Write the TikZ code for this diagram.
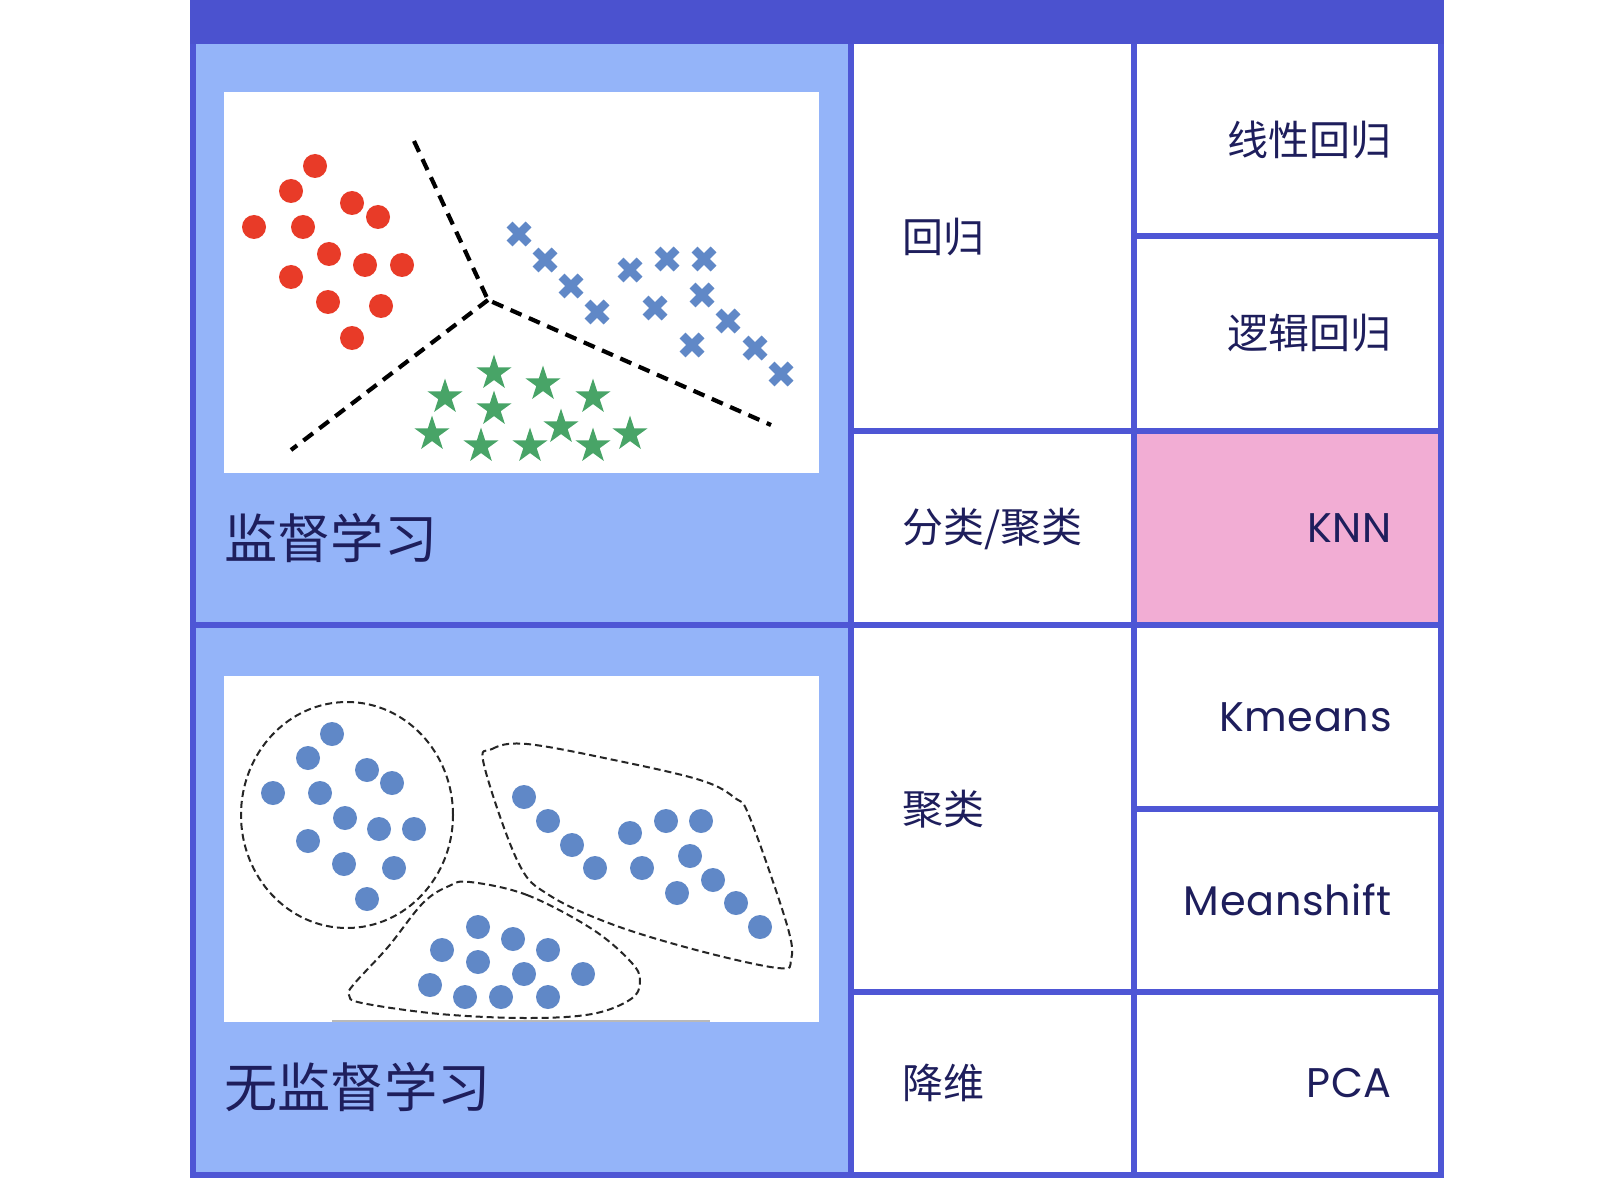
\documentclass[tikz,border=0pt]{standalone}
\usepackage{fontspec}
\setmainfont[LetterSpace=1.5]{Poppins}
\newfontfamily\cjk{Noto Sans CJK SC}
\usepackage{xcolor}
\usepackage{tikz}
\usetikzlibrary{shapes.geometric}

\definecolor{barblue}{HTML}{4B52CF}
\definecolor{gridblue}{HTML}{4E56D5}
\definecolor{paneblue}{HTML}{94B4F9}
\definecolor{knnpink}{HTML}{F2ADD4}
\definecolor{inkblue}{HTML}{1E1E5C}
\definecolor{dotred}{HTML}{E83B28}
\definecolor{dotblue}{HTML}{6088C7}
\definecolor{stargreen}{HTML}{48A467}

\tikzset{
  grid line/.style={draw=gridblue, line width=3pt},
  split line/.style={draw=black, line width=2.1pt, dash pattern=on 6pt off 4pt},
  hull line/.style={draw=black!85, line width=1pt, dash pattern=on 3.5pt off 2pt},
  big label/.style={anchor=west, inner sep=0pt, text=inkblue, font=\cjk\fontsize{26.6}{30}\selectfont},
  kind label/.style={anchor=west, inner sep=0pt, text=inkblue, font=\cjk\fontsize{20.5}{24}\selectfont},
  algo label/.style={anchor=east, inner sep=0pt, text=inkblue, font=\fontsize{20.7}{24}\selectfont},
  algo cjk/.style={algo label, font=\cjk\fontsize{20.5}{24}\selectfont},
  green star/.style={star, star points=5, star point ratio=2.618, minimum size=18.5pt, inner sep=0pt, fill=stargreen},
}

\begin{document}
\begin{tikzpicture}[x=0.5pt, y=-0.5pt]
\useasboundingbox (0,0) rectangle (1620,1203);
\fill[white] (0,0) rectangle (1620,1203);

% panes and table
\fill[paneblue] (193,44) rectangle (851,1175);
\fill[knnpink] (1134,431) rectangle (1441,625);
\fill[white] (224,92) rectangle (819,473);
\fill[white] (224,676) rectangle (819,1022);
\draw[gray!55, line width=0.6pt] (332,1021) -- (710,1021);

\draw[grid line] (193,41) -- (193,1175) -- (1441,1175) -- (1441,41);
\draw[grid line] (851,41) -- (851,1175);
\draw[grid line] (1134,41) -- (1134,1175);
\draw[grid line] (193,625) -- (1441,625);
\draw[grid line] (851,431) -- (1441,431);
\draw[grid line] (1134,236) -- (1441,236);
\draw[grid line] (1134,808.5) -- (1441,808.5);
\draw[grid line] (851,992) -- (1441,992);
\fill[barblue] (190,0) rectangle (1444,44);

% supervised scatter
\foreach \x/\y in {315/166, 291/191, 352/203, 378/217, 254/227, 303/227, 329/254,
                   365/265, 402/265, 291/277, 328/302, 381/306, 352/338}
  \fill[dotred] (\x,\y) circle[radius=6pt];
\foreach \x/\y in {519/234, 545/260, 571/286, 597/312, 630/270, 667/259, 704/259,
                   655/308, 702/295, 728/321, 692/345, 755/348, 781/374}
  \draw[dotblue, line width=4.2pt] (\x-9.5,\y-9.5) -- (\x+9.5,\y+9.5) (\x-9.5,\y+9.5) -- (\x+9.5,\y-9.5);
\foreach \x/\y in {494/373, 543/384, 445/397, 593/397, 494/409, 561/427, 432/434,
                   630/434, 481/446, 530/446, 593/446}
  \node[green star] at (\x,\y) {};

\coordinate (hub) at (488,300);
\coordinate (north end) at (414,141);
\coordinate (west end) at (291,450);
\coordinate (east end) at (771,425);
\draw[split line] (north end) -- (hub) -- (east end);
\draw[split line] (hub) -- (west end);

% unsupervised scatter
\foreach \x/\y in {332/734, 308/758, 367/770, 392/783, 273/793, 320/793, 345/818,
                   379/829, 414/829, 308/841, 344/864, 394/868, 367/899,
                   524/797, 548/821, 572/845, 595/868, 630/833, 666/821, 701/821,
                   642/868, 690/856, 713/880, 677/893, 736/903, 760/927,
                   478/927, 513/939, 442/950, 548/950, 478/962, 524/974, 583/974,
                   430/985, 465/997, 501/997, 548/997}
  \fill[dotblue] (\x,\y) circle[radius=6pt];

\draw[hull line] (347,815) ellipse [x radius=53pt, y radius=56.5pt];
\draw[hull line] plot[smooth cycle, tension=0.6] coordinates {(484,765) (492,749) (527,744)
  (614,760) (700,780) (735,798) (750,818) (787,925) (791,960) (778,968) (700,951)
  (614,925) (549,895) (518,862)};
\draw[hull line] plot[smooth cycle, tension=0.6] coordinates {(470,882) (527,895) (592,929)
  (631,962) (640,981) (631,999) (592,1014) (527,1018) (440,1014) (362,1003) (349,995)
  (354,984) (388,947) (423,903) (449,886)};

% labels
\node[big label] (sup) at (224,538) {监督学习};
\node[big label] (unsup) at (224,1087) {无监督学习};
\node[kind label] (reg) at (902,237) {回归};
\node[kind label] (cls) at (902,528.5) {分类/聚类};
\node[kind label] (clu) at (902,809) {聚类};
\node[kind label] (dim) at (902,1083) {降维};
\node[algo cjk] (lin) at (1392,140) {线性回归};
\node[algo cjk] (logi) at (1392,333) {逻辑回归};
\node[algo label] (knn) at (1392,528) {KNN};
\node[algo label] (kmeans) at (1392,717) {Kmeans};
\node[algo label] (mshift) at (1392,900) {Meanshift};
\node[algo label] (pca) at (1392,1083) {PCA};
\end{tikzpicture}
\end{document}
